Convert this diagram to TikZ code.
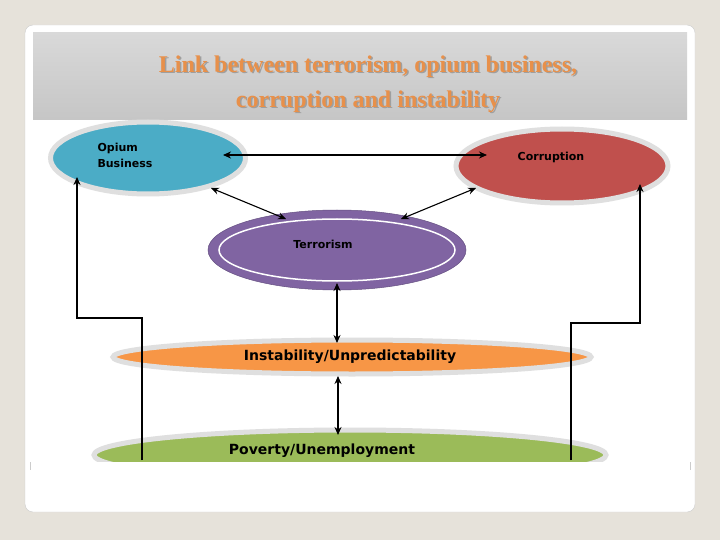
\documentclass[tikz,border=0pt]{standalone}
\usepackage{fontspec}
\setmainfont{Liberation Serif}
\newfontfamily\dg{DejaVu Sans}
\usetikzlibrary{arrows.meta,shapes.geometric}
\definecolor{bg}{HTML}{E6E2DA}
\definecolor{opium}{HTML}{4BACC6}
\definecolor{corr}{HTML}{C0504D}
\definecolor{terr}{HTML}{8064A2}
\definecolor{inst}{HTML}{F79646}
\definecolor{pov}{HTML}{9BBB59}
\definecolor{titlec}{HTML}{E8904A}
\begin{document}
\begin{tikzpicture}[x=1pt,y=-1pt,
  bub/.style={ellipse,draw=gray!25,line width=5pt,inner sep=0pt},
  lab/.style={font=\dg\bfseries,text=black},
  arr/.style={line width=1.1pt,{Stealth[length=8pt,width=7pt]}-{Stealth[length=8pt,width=7pt]}},
  feed/.style={line width=1.1pt,-{Stealth[length=8pt,width=7pt]}}]
\useasboundingbox (0,0) rectangle (720,540);
\fill[bg] (0,0) rectangle (720,540);
\fill[white,draw=gray!40,rounded corners=8pt] (25,25) rectangle (695,512);
\shade[top color=gray!30,bottom color=gray!45] (33,33) rectangle (687,120);
\node[font=\bfseries\fontsize{24}{35}\selectfont,text=gray!75,align=center] at (369.5,85.5) {Link between terrorism, opium business,\\corruption and instability};
\node[font=\bfseries\fontsize{24}{35}\selectfont,text=titlec,align=center] (title) at (368,84) {Link between terrorism, opium business,\\corruption and instability};
% ellipses
\node[bub,fill=opium,minimum width=195pt,minimum height=72pt] (op) at (148,158) {};
\node[lab,font=\dg\bfseries\fontsize{11}{16}\selectfont,align=left,anchor=west] (opt) at (94,155) {Opium\\Business};
\node[bub,fill=corr,minimum width=212pt,minimum height=74pt] (co) at (562,166) {};
\node[lab,font=\dg\bfseries\fontsize{11}{13}\selectfont] (cot) at (551,157) {Corruption};
\node[ellipse,fill=terr,draw=terr!80!black,line width=0.5pt,minimum width=258pt,minimum height=80pt,inner sep=0pt] (te) at (337,250) {};
\draw[white,line width=1.5pt] (337,250) ellipse (118 and 31);
\node[lab,font=\dg\bfseries\fontsize{11}{13}\selectfont] (tet) at (323,244) {Terrorism};
\node[bub,fill=inst,minimum width=478pt,minimum height=34pt] (in) at (352,357) {};
\node[lab,font=\dg\bfseries\fontsize{14}{16}\selectfont] (int) at (350,357) {Instability/Unpredictability};
\node[bub,fill=pov,minimum width=512pt,minimum height=50pt] (po) at (350,455) {};
\node[lab,font=\dg\bfseries\fontsize{14}{16}\selectfont] (pot) at (322,451) {Poverty/Unemployment};
\fill[white] (30,462) rectangle (690,508);
\draw[gray!40] (30,462) -- (30,470) (690,462) -- (690,470);
% connectors
\coordinate (a1) at (223,155); \coordinate (a2) at (487,155);
\draw[arr] (a1) -- (a2);
\coordinate (b1) at (211,188); \coordinate (b2) at (286,219);
\draw[arr] (b1) -- (b2);
\coordinate (c1) at (476,188); \coordinate (c2) at (401,219);
\draw[arr] (c1) -- (c2);
\coordinate (d1) at (337,283); \coordinate (d2) at (337,343);
\draw[arr] (d1) -- (d2);
\coordinate (e1) at (338,376); \coordinate (e2) at (338,435);
\draw[arr] (e1) -- (e2);
\coordinate (l0) at (142,460); \coordinate (l1) at (77,177);
\draw[feed] (l0) -- (142,318) -- (77,318) -- (l1);
\coordinate (r0) at (571,460); \coordinate (r1) at (640,184);
\draw[feed] (r0) -- (571,323) -- (640,323) -- (r1);
\end{tikzpicture}
\end{document}
